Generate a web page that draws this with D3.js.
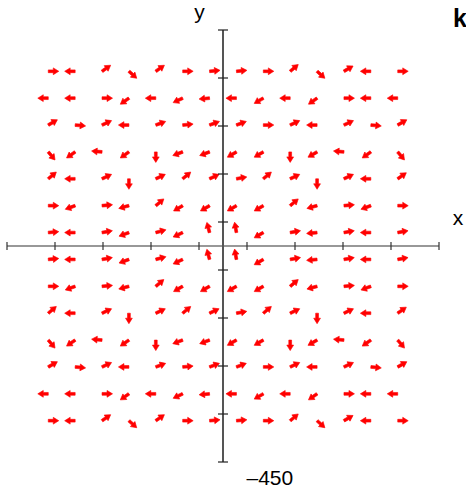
<!DOCTYPE html>
<html>
<head>
<meta charset="utf-8">
<script src="https://cdn.jsdelivr.net/npm/d3@7"></script>
<style>
  body { margin: 0; background: #fff; }
  svg { display: block; font-family: "Liberation Sans", Arial, sans-serif; }
</style>
</head>
<body>
<svg id="chart"></svg>
<script>
const SVG_WIDTH = 466;
const SVG_HEIGHT = 492;

// grid of arrow tails (data units)
const gridX = [-364, -308, -252, -196, -140, -84, -28, 28, 84, 140, 196, 252, 308, 364];
const gridY = [364, 308, 252, 196, 140, 84, 28, -28, -84, -140, -196, -252, -308, -364];

// arrow direction per cell, degrees (0 = right, 90 = up), one row per gridY
const angles = [
  [0, 180, 35, -42, 35, 0, 5, 5, 0, 40, -42, 30, 180, 0],
  [180, 180, 0, 215, 180, 205, 185, 180, 210, 180, 215, 0, 180, 180],
  [30, -5, 25, 180, 20, 5, 20, 20, 0, 25, 180, 25, -5, 30],
  [-50, 215, 175, 215, -90, 200, 200, 210, 210, -90, 210, 175, 215, -50],
  [40, 180, 25, -90, 25, 40, 25, 10, 40, 25, -90, 25, 180, 35],
  [0, 200, 5, 195, 40, 210, 210, 210, 210, 40, 195, 5, 200, 0],
  [5, 180, 10, 200, 15, 205, 105, 100, 210, 10, 185, 10, 180, 10],
  [5, 180, 10, 200, 15, 205, 105, 100, 210, 10, 185, 10, 180, 10],
  [0, 200, 5, 195, 40, 210, 210, 210, 210, 40, 195, 5, 200, 0],
  [40, 180, 25, -90, 25, 40, 25, 10, 40, 25, -90, 25, 180, 35],
  [-50, 215, 175, 215, -90, 200, 200, 210, 210, -90, 210, 175, 215, -50],
  [30, -5, 25, 180, 20, 5, 20, 20, 0, 25, 180, 25, -5, 30],
  [180, 180, 0, 215, 180, 205, 185, 180, 210, 180, 215, 0, 180, 180],
  [0, 180, 35, -42, 35, 0, 5, 5, 0, 40, -42, 30, 180, 0]
];

const tickValues = [-450, -350, -250, -150, -50, 50, 150, 250, 350, 450];

const svg = d3.select('#chart')
  .attr('width', SVG_WIDTH)
  .attr('height', SVG_HEIGHT);

const x = d3.scaleLinear().domain([-450, 450]).range([7, 439]);
const y = d3.scaleLinear().domain([-450, 450]).range([462, 30]);

// flatten the grid into arrow records
const arrows = [];
gridY.forEach((gy, r) => {
  gridX.forEach((gx, c) => {
    arrows.push({x: gx, y: gy, a: angles[r][c]});
  });
});

// arrow shape pointing right, tail at origin
const arrowPath = 'M0,-1.4 L5,-1.4 L5,-3.4 L10.5,0 L5,3.4 L5,1.4 L0,1.4 Z';

svg.append('g')
  .attr('class', 'arrows')
  .selectAll('path')
  .data(arrows)
  .enter()
  .append('path')
  .attr('d', arrowPath)
  .attr('transform', d => `translate(${x(d.x)},${y(d.y)}) rotate(${-d.a})`)
  .style('fill', '#ff0000')
  .style('stroke', '#ff0000')
  .style('stroke-width', 0.6)
  .style('stroke-linejoin', 'round');

// axes
const axes = svg.append('g').attr('class', 'axes');

axes.append('line')
  .attr('x1', x(-450)).attr('x2', x(450))
  .attr('y1', y(0)).attr('y2', y(0))
  .style('stroke', '#333').style('stroke-width', 1.2);

axes.selectAll('.xtick')
  .data(tickValues)
  .enter()
  .append('line')
  .attr('class', 'xtick')
  .attr('x1', d => x(d)).attr('x2', d => x(d))
  .attr('y1', y(0) - 4).attr('y2', y(0) + 4)
  .style('stroke', '#333').style('stroke-width', 1.2);

axes.append('line')
  .attr('x1', x(0)).attr('x2', x(0))
  .attr('y1', y(450)).attr('y2', y(-450))
  .style('stroke', '#555').style('stroke-width', 2);

axes.selectAll('.ytick')
  .data(tickValues)
  .enter()
  .append('line')
  .attr('class', 'ytick')
  .attr('x1', x(0) - 5).attr('x2', x(0) + 5)
  .attr('y1', d => y(d)).attr('y2', d => y(d))
  .style('stroke', '#222').style('stroke-width', 1.2);

// labels
svg.append('text')
  .attr('x', 199.5).attr('y', 18.6)
  .attr('text-anchor', 'middle')
  .style('font-size', '21px')
  .text('y');

svg.append('text')
  .attr('x', 458).attr('y', 225)
  .attr('text-anchor', 'middle')
  .style('font-size', '21px')
  .text('x');

svg.append('text')
  .attr('x', 246.5).attr('y', 485)
  .style('font-size', '21px')
  .text('–450');

svg.append('text')
  .attr('x', 453).attr('y', 26.5)
  .style('font-size', '25px')
  .style('font-weight', 'bold')
  .text('k');
</script>
</body>
</html>
